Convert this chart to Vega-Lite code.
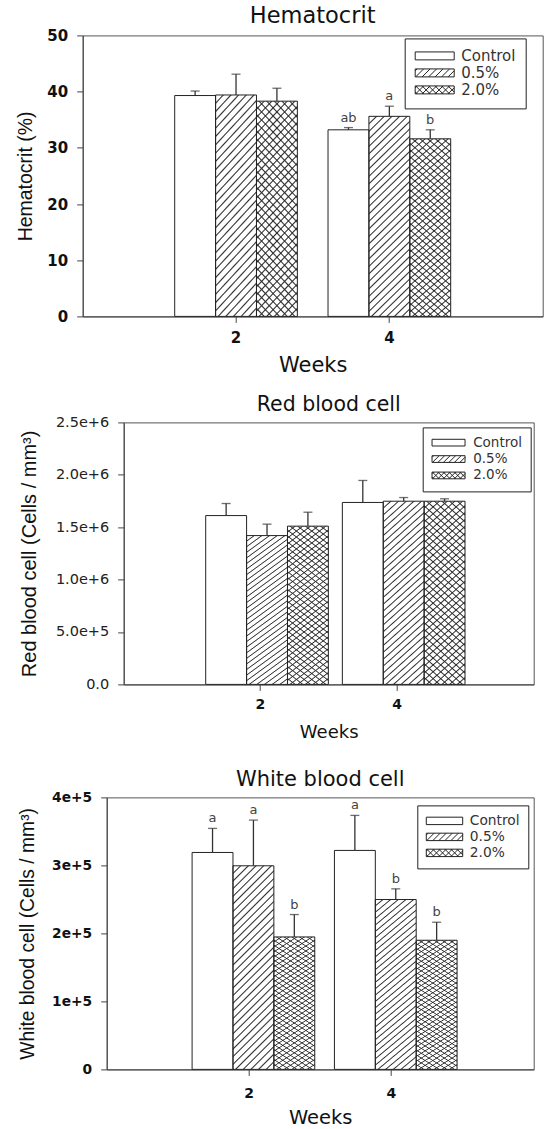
{
"$schema": "https://vega.github.io/schema/vega-lite/v6.json",
"background": "white",
"padding": {"left": 12.7, "top": 4.4, "right": 0, "bottom": 0},
"spacing": 0,
"resolve": {"scale": {"fill": "independent"}, "legend": {"fill": "independent"}},
"config": {
 "view": {"stroke": "#555", "strokeWidth": 1},
 "font": "DejaVu Sans",
 "axis": {"grid": false, "domainColor": "#444", "tickColor": "#444", "labelColor": "#111", "titleColor": "#111", "tickSize": 6, "labelPadding": 9, "labelFont": "DejaVu Sans", "titleFont": "DejaVu Sans", "titleFontWeight": "normal"},
 "axisX": {"labelAngle": 0},
 "title": {"font": "DejaVu Sans", "fontWeight": "normal", "color": "#111", "baseline": "alphabetic"},
 "legend": {"strokeColor": "#222", "fillColor": "white", "labelFont": "DejaVu Sans", "labelColor": "#333", "symbolStrokeColor": "#222", "symbolStrokeWidth": 1, "symbolFillColor": "white", "labelBaseline": "middle"}
},
"vconcat": [
 {"spacing": 0, "resolve": {"scale": {"fill": "independent"}, "legend": {"fill": "independent"}}, "hconcat": [
  {"width": 1, "height": 1, "data": {"values": []}, "mark": {"type": "point", "opacity": 0}, "view": {"stroke": null}},
  {
  "width": 460, "height": 281,
  "title": {"text": "Hematocrit", "fontSize": 22.5, "offset": 0.5},
  "data": {"values": [
   {"week": "2", "group": "Control", "value": 39.3, "upper": 40.1, "sig": ""},
   {"week": "2", "group": "0.5%", "value": 39.4, "upper": 43.1, "sig": ""},
   {"week": "2", "group": "2.0%", "value": 38.3, "upper": 40.6, "sig": ""},
   {"week": "4", "group": "Control", "value": 33.2, "upper": 33.6, "sig": "ab"},
   {"week": "4", "group": "0.5%", "value": 35.6, "upper": 37.4, "sig": "a"},
   {"week": "4", "group": "2.0%", "value": 31.6, "upper": 33.2, "sig": "b"}
  ]},
  "encoding": {
   "x": {"field": "week", "type": "ordinal", "scale": {"paddingInner": 0.2, "paddingOuter": 0.6}, "axis": {"title": "Weeks", "labelFontWeight": "bold", "labelFontSize": 15, "labelPadding": 8, "titleFontSize": 21, "titlePadding": 9}},
   "xOffset": {"field": "group", "type": "nominal", "scale": {"domain": ["Control", "0.5%", "2.0%"], "paddingInner": 0, "paddingOuter": 0}},
   "y": {"field": "value", "type": "quantitative", "scale": {"domain": [0, 50], "nice": false}, "axis": {"title": "Hematocrit (%)", "values": [0, 10, 20, 30, 40, 50], "labelFontWeight": "bold", "labelFontSize": 15, "titleFont": "Liberation Sans", "titleFontSize": 19.5, "titlePadding": 11.7}}
  },
  "layer": [
   {"mark": {"type": "bar"}, "encoding": {"fill": {"field": "group", "type": "nominal", "scale": {"domain": ["Control", "0.5%", "2.0%"], "range": ["white", "white", "white"]},
     "legend": {"title": null, "orient": "none", "legendX": 322, "legendY": 3, "padding": 10, "labelFontSize": 15, "symbolSize": 194, "symbolOffset": 12.5, "labelOffset": 19.1, "rowPadding": 1,
      "encode": {"symbols": {"update": {"stroke": {"value": "#222"}, "strokeWidth": {"value": 1}, "fill": {"value": "white"}, "opacity": {"value": 1},
       "shape": [
        {"test": "datum.value === '0.5%'", "value": "M-2.8,-0.57H2.8V0.57H-2.8Z M-2.8,-0.29L-2.52,-0.57M-2.73,0.57L-1.59,-0.57M-1.8,0.57L-0.66,-0.57M-0.87,0.57L0.27,-0.57M0.06,0.57L1.2,-0.57M0.99,0.57L2.13,-0.57M1.92,0.57L2.8,-0.31"},
        {"test": "datum.value === '2.0%'", "value": "M-2.8,-0.57H2.8V0.57H-2.8Z M-2.8,-0.29L-2.52,-0.57M-2.73,0.57L-1.59,-0.57M-1.8,0.57L-0.66,-0.57M-0.87,0.57L0.27,-0.57M0.06,0.57L1.2,-0.57M0.99,0.57L2.13,-0.57M1.92,0.57L2.8,-0.31 M-2.8,0.29L-2.52,0.57M-2.73,-0.57L-1.59,0.57M-1.8,-0.57L-0.66,0.57M-0.87,-0.57L0.27,0.57M0.06,-0.57L1.2,0.57M0.99,-0.57L2.13,0.57M1.92,-0.57L2.8,0.31"},
        {"value": "M-2.8,-0.57H2.8V0.57H-2.8Z"}
       ]}}}}}}},
   {"transform": [{"filter": "datum.group != 'Control'"}], "mark": {"type": "bar", "fill": {"gradient": "linear", "x1": 0, "y1": 0, "x2": 0.2308, "y2": 1.1539, "stops": [
{"offset":0,"color":"#333"},{"offset":0.0056,"color":"transparent"},{"offset":0.0256,"color":"transparent"},
{"offset":0.0313,"color":"#333"},{"offset":0.0369,"color":"transparent"},{"offset":0.0569,"color":"transparent"},
{"offset":0.0625,"color":"#333"},{"offset":0.0681,"color":"transparent"},{"offset":0.0881,"color":"transparent"},
{"offset":0.0938,"color":"#333"},{"offset":0.0994,"color":"transparent"},{"offset":0.1194,"color":"transparent"},
{"offset":0.125,"color":"#333"},{"offset":0.1306,"color":"transparent"},{"offset":0.1506,"color":"transparent"},
{"offset":0.1563,"color":"#333"},{"offset":0.1619,"color":"transparent"},{"offset":0.1819,"color":"transparent"},
{"offset":0.1875,"color":"#333"},{"offset":0.1931,"color":"transparent"},{"offset":0.2131,"color":"transparent"},
{"offset":0.2188,"color":"#333"},{"offset":0.2244,"color":"transparent"},{"offset":0.2444,"color":"transparent"},
{"offset":0.25,"color":"#333"},{"offset":0.2556,"color":"transparent"},{"offset":0.2756,"color":"transparent"},
{"offset":0.2813,"color":"#333"},{"offset":0.2869,"color":"transparent"},{"offset":0.3069,"color":"transparent"},
{"offset":0.3125,"color":"#333"},{"offset":0.3181,"color":"transparent"},{"offset":0.3381,"color":"transparent"},
{"offset":0.3438,"color":"#333"},{"offset":0.3494,"color":"transparent"},{"offset":0.3694,"color":"transparent"},
{"offset":0.375,"color":"#333"},{"offset":0.3806,"color":"transparent"},{"offset":0.4006,"color":"transparent"},
{"offset":0.4063,"color":"#333"},{"offset":0.4119,"color":"transparent"},{"offset":0.4319,"color":"transparent"},
{"offset":0.4375,"color":"#333"},{"offset":0.4431,"color":"transparent"},{"offset":0.4631,"color":"transparent"},
{"offset":0.4688,"color":"#333"},{"offset":0.4744,"color":"transparent"},{"offset":0.4944,"color":"transparent"},
{"offset":0.5,"color":"#333"},{"offset":0.5056,"color":"transparent"},{"offset":0.5256,"color":"transparent"},
{"offset":0.5313,"color":"#333"},{"offset":0.5369,"color":"transparent"},{"offset":0.5569,"color":"transparent"},
{"offset":0.5625,"color":"#333"},{"offset":0.5681,"color":"transparent"},{"offset":0.5881,"color":"transparent"},
{"offset":0.5938,"color":"#333"},{"offset":0.5994,"color":"transparent"},{"offset":0.6194,"color":"transparent"},
{"offset":0.625,"color":"#333"},{"offset":0.6306,"color":"transparent"},{"offset":0.6506,"color":"transparent"},
{"offset":0.6563,"color":"#333"},{"offset":0.6619,"color":"transparent"},{"offset":0.6819,"color":"transparent"},
{"offset":0.6875,"color":"#333"},{"offset":0.6931,"color":"transparent"},{"offset":0.7131,"color":"transparent"},
{"offset":0.7188,"color":"#333"},{"offset":0.7244,"color":"transparent"},{"offset":0.7444,"color":"transparent"},
{"offset":0.75,"color":"#333"},{"offset":0.7556,"color":"transparent"},{"offset":0.7756,"color":"transparent"},
{"offset":0.7813,"color":"#333"},{"offset":0.7869,"color":"transparent"},{"offset":0.8069,"color":"transparent"},
{"offset":0.8125,"color":"#333"},{"offset":0.8181,"color":"transparent"},{"offset":0.8381,"color":"transparent"},
{"offset":0.8438,"color":"#333"},{"offset":0.8494,"color":"transparent"},{"offset":0.8694,"color":"transparent"},
{"offset":0.875,"color":"#333"},{"offset":0.8806,"color":"transparent"},{"offset":0.9006,"color":"transparent"},
{"offset":0.9063,"color":"#333"},{"offset":0.9119,"color":"transparent"},{"offset":0.9319,"color":"transparent"},
{"offset":0.9375,"color":"#333"},{"offset":0.9431,"color":"transparent"},{"offset":0.9631,"color":"transparent"},
{"offset":0.9688,"color":"#333"},{"offset":0.9744,"color":"transparent"},{"offset":0.9944,"color":"transparent"},
{"offset":1,"color":"#333"}]}}},
   {"transform": [{"filter": "datum.group == '2.0%'"}], "mark": {"type": "bar", "fill": {"gradient": "linear", "x1": 0, "y1": 1, "x2": 0.2308, "y2": -0.1539, "stops": [
{"offset":0,"color":"#333"},{"offset":0.0056,"color":"transparent"},{"offset":0.0256,"color":"transparent"},
{"offset":0.0313,"color":"#333"},{"offset":0.0369,"color":"transparent"},{"offset":0.0569,"color":"transparent"},
{"offset":0.0625,"color":"#333"},{"offset":0.0681,"color":"transparent"},{"offset":0.0881,"color":"transparent"},
{"offset":0.0938,"color":"#333"},{"offset":0.0994,"color":"transparent"},{"offset":0.1194,"color":"transparent"},
{"offset":0.125,"color":"#333"},{"offset":0.1306,"color":"transparent"},{"offset":0.1506,"color":"transparent"},
{"offset":0.1563,"color":"#333"},{"offset":0.1619,"color":"transparent"},{"offset":0.1819,"color":"transparent"},
{"offset":0.1875,"color":"#333"},{"offset":0.1931,"color":"transparent"},{"offset":0.2131,"color":"transparent"},
{"offset":0.2188,"color":"#333"},{"offset":0.2244,"color":"transparent"},{"offset":0.2444,"color":"transparent"},
{"offset":0.25,"color":"#333"},{"offset":0.2556,"color":"transparent"},{"offset":0.2756,"color":"transparent"},
{"offset":0.2813,"color":"#333"},{"offset":0.2869,"color":"transparent"},{"offset":0.3069,"color":"transparent"},
{"offset":0.3125,"color":"#333"},{"offset":0.3181,"color":"transparent"},{"offset":0.3381,"color":"transparent"},
{"offset":0.3438,"color":"#333"},{"offset":0.3494,"color":"transparent"},{"offset":0.3694,"color":"transparent"},
{"offset":0.375,"color":"#333"},{"offset":0.3806,"color":"transparent"},{"offset":0.4006,"color":"transparent"},
{"offset":0.4063,"color":"#333"},{"offset":0.4119,"color":"transparent"},{"offset":0.4319,"color":"transparent"},
{"offset":0.4375,"color":"#333"},{"offset":0.4431,"color":"transparent"},{"offset":0.4631,"color":"transparent"},
{"offset":0.4688,"color":"#333"},{"offset":0.4744,"color":"transparent"},{"offset":0.4944,"color":"transparent"},
{"offset":0.5,"color":"#333"},{"offset":0.5056,"color":"transparent"},{"offset":0.5256,"color":"transparent"},
{"offset":0.5313,"color":"#333"},{"offset":0.5369,"color":"transparent"},{"offset":0.5569,"color":"transparent"},
{"offset":0.5625,"color":"#333"},{"offset":0.5681,"color":"transparent"},{"offset":0.5881,"color":"transparent"},
{"offset":0.5938,"color":"#333"},{"offset":0.5994,"color":"transparent"},{"offset":0.6194,"color":"transparent"},
{"offset":0.625,"color":"#333"},{"offset":0.6306,"color":"transparent"},{"offset":0.6506,"color":"transparent"},
{"offset":0.6563,"color":"#333"},{"offset":0.6619,"color":"transparent"},{"offset":0.6819,"color":"transparent"},
{"offset":0.6875,"color":"#333"},{"offset":0.6931,"color":"transparent"},{"offset":0.7131,"color":"transparent"},
{"offset":0.7188,"color":"#333"},{"offset":0.7244,"color":"transparent"},{"offset":0.7444,"color":"transparent"},
{"offset":0.75,"color":"#333"},{"offset":0.7556,"color":"transparent"},{"offset":0.7756,"color":"transparent"},
{"offset":0.7813,"color":"#333"},{"offset":0.7869,"color":"transparent"},{"offset":0.8069,"color":"transparent"},
{"offset":0.8125,"color":"#333"},{"offset":0.8181,"color":"transparent"},{"offset":0.8381,"color":"transparent"},
{"offset":0.8438,"color":"#333"},{"offset":0.8494,"color":"transparent"},{"offset":0.8694,"color":"transparent"},
{"offset":0.875,"color":"#333"},{"offset":0.8806,"color":"transparent"},{"offset":0.9006,"color":"transparent"},
{"offset":0.9063,"color":"#333"},{"offset":0.9119,"color":"transparent"},{"offset":0.9319,"color":"transparent"},
{"offset":0.9375,"color":"#333"},{"offset":0.9431,"color":"transparent"},{"offset":0.9631,"color":"transparent"},
{"offset":0.9688,"color":"#333"},{"offset":0.9744,"color":"transparent"},{"offset":0.9944,"color":"transparent"},
{"offset":1,"color":"#333"}]}}},
   {"mark": {"type": "bar", "fill": "transparent", "stroke": "#222", "strokeWidth": 1}},
   {"mark": {"type": "rule", "color": "#333", "strokeWidth": 1.3}, "encoding": {"y": {"field": "value", "type": "quantitative"}, "y2": {"field": "upper"}}},
   {"mark": {"type": "tick", "color": "#333", "size": 9, "thickness": 1.3}, "encoding": {"y": {"field": "upper", "type": "quantitative"}}},
   {"mark": {"type": "text", "fontSize": 13, "color": "#444", "dy": -6, "baseline": "alphabetic"}, "encoding": {"y": {"field": "upper", "type": "quantitative"}, "text": {"field": "sig"}}}
  ]
 }]},
 {"width": 1, "height": 18, "data": {"values": []}, "mark": {"type": "point", "opacity": 0}, "view": {"stroke": null}},
 {"spacing": 0, "resolve": {"scale": {"fill": "independent"}, "legend": {"fill": "independent"}}, "hconcat": [
  {"width": 5.9, "height": 1, "data": {"values": []}, "mark": {"type": "point", "opacity": 0}, "view": {"stroke": null}},
  {
  "width": 410, "height": 262,
  "title": {"text": "Red blood cell", "fontSize": 20.5, "offset": -1},
  "data": {"values": [
   {"week": "2", "group": "Control", "value": 1611000, "upper": 1726000, "sig": ""},
   {"week": "2", "group": "0.5%", "value": 1420000, "upper": 1529000, "sig": ""},
   {"week": "2", "group": "2.0%", "value": 1510000, "upper": 1643000, "sig": ""},
   {"week": "4", "group": "Control", "value": 1736000, "upper": 1946000, "sig": ""},
   {"week": "4", "group": "0.5%", "value": 1748000, "upper": 1783000, "sig": ""},
   {"week": "4", "group": "2.0%", "value": 1748000, "upper": 1771000, "sig": ""}
  ]},
  "encoding": {
   "x": {"field": "week", "type": "ordinal", "scale": {"paddingInner": 0.2, "paddingOuter": 0.6}, "axis": {"title": "Weeks", "labelFontWeight": "bold", "labelFontSize": 14, "labelPadding": 7, "titleFontSize": 18, "titlePadding": 12}},
   "xOffset": {"field": "group", "type": "nominal", "scale": {"domain": ["Control", "0.5%", "2.0%"], "paddingInner": 0, "paddingOuter": 0}},
   "y": {"field": "value", "type": "quantitative", "scale": {"domain": [0, 2500000], "nice": false}, "axis": {"title": "Red blood cell (Cells / mm³)", "values": [0, 500000, 1000000, 1500000, 2000000, 2500000], "labelExpr": "datum.value == 0 ? '0.0' : format(datum.value, '.1e')", "labelFontSize": 14.5, "labelColor": "#222", "titleFont": "Liberation Sans", "titleFontSize": 20, "titlePadding": 16.1}}
  },
  "layer": [
   {"mark": {"type": "bar"}, "encoding": {"fill": {"field": "group", "type": "nominal", "scale": {"domain": ["Control", "0.5%", "2.0%"], "range": ["white", "white", "white"]},
     "legend": {"title": null, "orient": "none", "legendX": 299, "legendY": 5, "padding": 8.5, "labelFontSize": 13.5, "symbolSize": 139, "symbolOffset": 10.6, "labelOffset": 17.9, "rowPadding": 1.4,
      "encode": {"symbols": {"update": {"stroke": {"value": "#222"}, "strokeWidth": {"value": 1}, "fill": {"value": "white"}, "opacity": {"value": 1},
       "shape": [
        {"test": "datum.value === '0.5%'", "value": "M-2.8,-0.57H2.8V0.57H-2.8Z M-2.8,-0.29L-2.52,-0.57M-2.73,0.57L-1.59,-0.57M-1.8,0.57L-0.66,-0.57M-0.87,0.57L0.27,-0.57M0.06,0.57L1.2,-0.57M0.99,0.57L2.13,-0.57M1.92,0.57L2.8,-0.31"},
        {"test": "datum.value === '2.0%'", "value": "M-2.8,-0.57H2.8V0.57H-2.8Z M-2.8,-0.29L-2.52,-0.57M-2.73,0.57L-1.59,-0.57M-1.8,0.57L-0.66,-0.57M-0.87,0.57L0.27,-0.57M0.06,0.57L1.2,-0.57M0.99,0.57L2.13,-0.57M1.92,0.57L2.8,-0.31 M-2.8,0.29L-2.52,0.57M-2.73,-0.57L-1.59,0.57M-1.8,-0.57L-0.66,0.57M-0.87,-0.57L0.27,0.57M0.06,-0.57L1.2,0.57M0.99,-0.57L2.13,0.57M1.92,-0.57L2.8,0.31"},
        {"value": "M-2.8,-0.57H2.8V0.57H-2.8Z"}
       ]}}}}}}},
   {"transform": [{"filter": "datum.group != 'Control'"}], "mark": {"type": "bar", "fill": {"gradient": "linear", "x1": 0, "y1": 0, "x2": 0.2308, "y2": 1.1539, "stops": [
{"offset":0,"color":"#333"},{"offset":0.0056,"color":"transparent"},{"offset":0.0256,"color":"transparent"},
{"offset":0.0313,"color":"#333"},{"offset":0.0369,"color":"transparent"},{"offset":0.0569,"color":"transparent"},
{"offset":0.0625,"color":"#333"},{"offset":0.0681,"color":"transparent"},{"offset":0.0881,"color":"transparent"},
{"offset":0.0938,"color":"#333"},{"offset":0.0994,"color":"transparent"},{"offset":0.1194,"color":"transparent"},
{"offset":0.125,"color":"#333"},{"offset":0.1306,"color":"transparent"},{"offset":0.1506,"color":"transparent"},
{"offset":0.1563,"color":"#333"},{"offset":0.1619,"color":"transparent"},{"offset":0.1819,"color":"transparent"},
{"offset":0.1875,"color":"#333"},{"offset":0.1931,"color":"transparent"},{"offset":0.2131,"color":"transparent"},
{"offset":0.2188,"color":"#333"},{"offset":0.2244,"color":"transparent"},{"offset":0.2444,"color":"transparent"},
{"offset":0.25,"color":"#333"},{"offset":0.2556,"color":"transparent"},{"offset":0.2756,"color":"transparent"},
{"offset":0.2813,"color":"#333"},{"offset":0.2869,"color":"transparent"},{"offset":0.3069,"color":"transparent"},
{"offset":0.3125,"color":"#333"},{"offset":0.3181,"color":"transparent"},{"offset":0.3381,"color":"transparent"},
{"offset":0.3438,"color":"#333"},{"offset":0.3494,"color":"transparent"},{"offset":0.3694,"color":"transparent"},
{"offset":0.375,"color":"#333"},{"offset":0.3806,"color":"transparent"},{"offset":0.4006,"color":"transparent"},
{"offset":0.4063,"color":"#333"},{"offset":0.4119,"color":"transparent"},{"offset":0.4319,"color":"transparent"},
{"offset":0.4375,"color":"#333"},{"offset":0.4431,"color":"transparent"},{"offset":0.4631,"color":"transparent"},
{"offset":0.4688,"color":"#333"},{"offset":0.4744,"color":"transparent"},{"offset":0.4944,"color":"transparent"},
{"offset":0.5,"color":"#333"},{"offset":0.5056,"color":"transparent"},{"offset":0.5256,"color":"transparent"},
{"offset":0.5313,"color":"#333"},{"offset":0.5369,"color":"transparent"},{"offset":0.5569,"color":"transparent"},
{"offset":0.5625,"color":"#333"},{"offset":0.5681,"color":"transparent"},{"offset":0.5881,"color":"transparent"},
{"offset":0.5938,"color":"#333"},{"offset":0.5994,"color":"transparent"},{"offset":0.6194,"color":"transparent"},
{"offset":0.625,"color":"#333"},{"offset":0.6306,"color":"transparent"},{"offset":0.6506,"color":"transparent"},
{"offset":0.6563,"color":"#333"},{"offset":0.6619,"color":"transparent"},{"offset":0.6819,"color":"transparent"},
{"offset":0.6875,"color":"#333"},{"offset":0.6931,"color":"transparent"},{"offset":0.7131,"color":"transparent"},
{"offset":0.7188,"color":"#333"},{"offset":0.7244,"color":"transparent"},{"offset":0.7444,"color":"transparent"},
{"offset":0.75,"color":"#333"},{"offset":0.7556,"color":"transparent"},{"offset":0.7756,"color":"transparent"},
{"offset":0.7813,"color":"#333"},{"offset":0.7869,"color":"transparent"},{"offset":0.8069,"color":"transparent"},
{"offset":0.8125,"color":"#333"},{"offset":0.8181,"color":"transparent"},{"offset":0.8381,"color":"transparent"},
{"offset":0.8438,"color":"#333"},{"offset":0.8494,"color":"transparent"},{"offset":0.8694,"color":"transparent"},
{"offset":0.875,"color":"#333"},{"offset":0.8806,"color":"transparent"},{"offset":0.9006,"color":"transparent"},
{"offset":0.9063,"color":"#333"},{"offset":0.9119,"color":"transparent"},{"offset":0.9319,"color":"transparent"},
{"offset":0.9375,"color":"#333"},{"offset":0.9431,"color":"transparent"},{"offset":0.9631,"color":"transparent"},
{"offset":0.9688,"color":"#333"},{"offset":0.9744,"color":"transparent"},{"offset":0.9944,"color":"transparent"},
{"offset":1,"color":"#333"}]}}},
   {"transform": [{"filter": "datum.group == '2.0%'"}], "mark": {"type": "bar", "fill": {"gradient": "linear", "x1": 0, "y1": 1, "x2": 0.2308, "y2": -0.1539, "stops": [
{"offset":0,"color":"#333"},{"offset":0.0056,"color":"transparent"},{"offset":0.0256,"color":"transparent"},
{"offset":0.0313,"color":"#333"},{"offset":0.0369,"color":"transparent"},{"offset":0.0569,"color":"transparent"},
{"offset":0.0625,"color":"#333"},{"offset":0.0681,"color":"transparent"},{"offset":0.0881,"color":"transparent"},
{"offset":0.0938,"color":"#333"},{"offset":0.0994,"color":"transparent"},{"offset":0.1194,"color":"transparent"},
{"offset":0.125,"color":"#333"},{"offset":0.1306,"color":"transparent"},{"offset":0.1506,"color":"transparent"},
{"offset":0.1563,"color":"#333"},{"offset":0.1619,"color":"transparent"},{"offset":0.1819,"color":"transparent"},
{"offset":0.1875,"color":"#333"},{"offset":0.1931,"color":"transparent"},{"offset":0.2131,"color":"transparent"},
{"offset":0.2188,"color":"#333"},{"offset":0.2244,"color":"transparent"},{"offset":0.2444,"color":"transparent"},
{"offset":0.25,"color":"#333"},{"offset":0.2556,"color":"transparent"},{"offset":0.2756,"color":"transparent"},
{"offset":0.2813,"color":"#333"},{"offset":0.2869,"color":"transparent"},{"offset":0.3069,"color":"transparent"},
{"offset":0.3125,"color":"#333"},{"offset":0.3181,"color":"transparent"},{"offset":0.3381,"color":"transparent"},
{"offset":0.3438,"color":"#333"},{"offset":0.3494,"color":"transparent"},{"offset":0.3694,"color":"transparent"},
{"offset":0.375,"color":"#333"},{"offset":0.3806,"color":"transparent"},{"offset":0.4006,"color":"transparent"},
{"offset":0.4063,"color":"#333"},{"offset":0.4119,"color":"transparent"},{"offset":0.4319,"color":"transparent"},
{"offset":0.4375,"color":"#333"},{"offset":0.4431,"color":"transparent"},{"offset":0.4631,"color":"transparent"},
{"offset":0.4688,"color":"#333"},{"offset":0.4744,"color":"transparent"},{"offset":0.4944,"color":"transparent"},
{"offset":0.5,"color":"#333"},{"offset":0.5056,"color":"transparent"},{"offset":0.5256,"color":"transparent"},
{"offset":0.5313,"color":"#333"},{"offset":0.5369,"color":"transparent"},{"offset":0.5569,"color":"transparent"},
{"offset":0.5625,"color":"#333"},{"offset":0.5681,"color":"transparent"},{"offset":0.5881,"color":"transparent"},
{"offset":0.5938,"color":"#333"},{"offset":0.5994,"color":"transparent"},{"offset":0.6194,"color":"transparent"},
{"offset":0.625,"color":"#333"},{"offset":0.6306,"color":"transparent"},{"offset":0.6506,"color":"transparent"},
{"offset":0.6563,"color":"#333"},{"offset":0.6619,"color":"transparent"},{"offset":0.6819,"color":"transparent"},
{"offset":0.6875,"color":"#333"},{"offset":0.6931,"color":"transparent"},{"offset":0.7131,"color":"transparent"},
{"offset":0.7188,"color":"#333"},{"offset":0.7244,"color":"transparent"},{"offset":0.7444,"color":"transparent"},
{"offset":0.75,"color":"#333"},{"offset":0.7556,"color":"transparent"},{"offset":0.7756,"color":"transparent"},
{"offset":0.7813,"color":"#333"},{"offset":0.7869,"color":"transparent"},{"offset":0.8069,"color":"transparent"},
{"offset":0.8125,"color":"#333"},{"offset":0.8181,"color":"transparent"},{"offset":0.8381,"color":"transparent"},
{"offset":0.8438,"color":"#333"},{"offset":0.8494,"color":"transparent"},{"offset":0.8694,"color":"transparent"},
{"offset":0.875,"color":"#333"},{"offset":0.8806,"color":"transparent"},{"offset":0.9006,"color":"transparent"},
{"offset":0.9063,"color":"#333"},{"offset":0.9119,"color":"transparent"},{"offset":0.9319,"color":"transparent"},
{"offset":0.9375,"color":"#333"},{"offset":0.9431,"color":"transparent"},{"offset":0.9631,"color":"transparent"},
{"offset":0.9688,"color":"#333"},{"offset":0.9744,"color":"transparent"},{"offset":0.9944,"color":"transparent"},
{"offset":1,"color":"#333"}]}}},
   {"mark": {"type": "bar", "fill": "transparent", "stroke": "#222", "strokeWidth": 1}},
   {"mark": {"type": "rule", "color": "#333", "strokeWidth": 1.3}, "encoding": {"y": {"field": "value", "type": "quantitative"}, "y2": {"field": "upper"}}},
   {"mark": {"type": "tick", "color": "#333", "size": 9, "thickness": 1.3}, "encoding": {"y": {"field": "upper", "type": "quantitative"}}}
  ]
 }]},
 {"width": 1, "height": 26, "data": {"values": []}, "mark": {"type": "point", "opacity": 0}, "view": {"stroke": null}},
 {"spacing": 0, "resolve": {"scale": {"fill": "independent"}, "legend": {"fill": "independent"}}, "hconcat": [
  {"width": 4.5, "height": 1, "data": {"values": []}, "mark": {"type": "point", "opacity": 0}, "view": {"stroke": null}},
  {
  "width": 427, "height": 272,
  "title": {"text": "White blood cell", "fontSize": 21, "offset": 0.5},
  "data": {"values": [
   {"week": "2", "group": "Control", "value": 319000, "upper": 354400, "sig": "a"},
   {"week": "2", "group": "0.5%", "value": 299400, "upper": 366600, "sig": "a"},
   {"week": "2", "group": "2.0%", "value": 194800, "upper": 227700, "sig": "b"},
   {"week": "4", "group": "Control", "value": 322000, "upper": 373500, "sig": "a"},
   {"week": "4", "group": "0.5%", "value": 249800, "upper": 265500, "sig": "b"},
   {"week": "4", "group": "2.0%", "value": 189900, "upper": 216400, "sig": "b"}
  ]},
  "encoding": {
   "x": {"field": "week", "type": "ordinal", "scale": {"paddingInner": 0.2, "paddingOuter": 0.6}, "axis": {"title": "Weeks", "labelFontWeight": "bold", "labelFontSize": 14, "labelPadding": 11, "titleFontSize": 19.5, "titlePadding": 8}},
   "xOffset": {"field": "group", "type": "nominal", "scale": {"domain": ["Control", "0.5%", "2.0%"], "paddingInner": 0, "paddingOuter": 0}},
   "y": {"field": "value", "type": "quantitative", "scale": {"domain": [0, 400000], "nice": false}, "axis": {"title": "White blood cell (Cells / mm³)", "values": [0, 100000, 200000, 300000, 400000], "labelExpr": "datum.value == 0 ? '0' : format(datum.value, '.0e')", "labelFontWeight": "bold", "labelFontSize": 13.8, "titleFont": "Liberation Sans", "titleFontSize": 19.3, "titlePadding": 13.8}}
  },
  "layer": [
   {"mark": {"type": "bar"}, "encoding": {"fill": {"field": "group", "type": "nominal", "scale": {"domain": ["Control", "0.5%", "2.0%"], "range": ["white", "white", "white"]},
     "legend": {"title": null, "orient": "none", "legendX": 310.6, "legendY": 8, "padding": 8.5, "labelFontSize": 13.8, "symbolSize": 169, "symbolOffset": 11.7, "labelOffset": 18.3, "rowPadding": 2,
      "encode": {"symbols": {"update": {"stroke": {"value": "#222"}, "strokeWidth": {"value": 1}, "fill": {"value": "white"}, "opacity": {"value": 1},
       "shape": [
        {"test": "datum.value === '0.5%'", "value": "M-2.8,-0.57H2.8V0.57H-2.8Z M-2.8,-0.29L-2.52,-0.57M-2.73,0.57L-1.59,-0.57M-1.8,0.57L-0.66,-0.57M-0.87,0.57L0.27,-0.57M0.06,0.57L1.2,-0.57M0.99,0.57L2.13,-0.57M1.92,0.57L2.8,-0.31"},
        {"test": "datum.value === '2.0%'", "value": "M-2.8,-0.57H2.8V0.57H-2.8Z M-2.8,-0.29L-2.52,-0.57M-2.73,0.57L-1.59,-0.57M-1.8,0.57L-0.66,-0.57M-0.87,0.57L0.27,-0.57M0.06,0.57L1.2,-0.57M0.99,0.57L2.13,-0.57M1.92,0.57L2.8,-0.31 M-2.8,0.29L-2.52,0.57M-2.73,-0.57L-1.59,0.57M-1.8,-0.57L-0.66,0.57M-0.87,-0.57L0.27,0.57M0.06,-0.57L1.2,0.57M0.99,-0.57L2.13,0.57M1.92,-0.57L2.8,0.31"},
        {"value": "M-2.8,-0.57H2.8V0.57H-2.8Z"}
       ]}}}}}}},
   {"transform": [{"filter": "datum.group != 'Control'"}], "mark": {"type": "bar", "fill": {"gradient": "linear", "x1": 0, "y1": 0, "x2": 0.2308, "y2": 1.1539, "stops": [
{"offset":0,"color":"#333"},{"offset":0.0056,"color":"transparent"},{"offset":0.0256,"color":"transparent"},
{"offset":0.0313,"color":"#333"},{"offset":0.0369,"color":"transparent"},{"offset":0.0569,"color":"transparent"},
{"offset":0.0625,"color":"#333"},{"offset":0.0681,"color":"transparent"},{"offset":0.0881,"color":"transparent"},
{"offset":0.0938,"color":"#333"},{"offset":0.0994,"color":"transparent"},{"offset":0.1194,"color":"transparent"},
{"offset":0.125,"color":"#333"},{"offset":0.1306,"color":"transparent"},{"offset":0.1506,"color":"transparent"},
{"offset":0.1563,"color":"#333"},{"offset":0.1619,"color":"transparent"},{"offset":0.1819,"color":"transparent"},
{"offset":0.1875,"color":"#333"},{"offset":0.1931,"color":"transparent"},{"offset":0.2131,"color":"transparent"},
{"offset":0.2188,"color":"#333"},{"offset":0.2244,"color":"transparent"},{"offset":0.2444,"color":"transparent"},
{"offset":0.25,"color":"#333"},{"offset":0.2556,"color":"transparent"},{"offset":0.2756,"color":"transparent"},
{"offset":0.2813,"color":"#333"},{"offset":0.2869,"color":"transparent"},{"offset":0.3069,"color":"transparent"},
{"offset":0.3125,"color":"#333"},{"offset":0.3181,"color":"transparent"},{"offset":0.3381,"color":"transparent"},
{"offset":0.3438,"color":"#333"},{"offset":0.3494,"color":"transparent"},{"offset":0.3694,"color":"transparent"},
{"offset":0.375,"color":"#333"},{"offset":0.3806,"color":"transparent"},{"offset":0.4006,"color":"transparent"},
{"offset":0.4063,"color":"#333"},{"offset":0.4119,"color":"transparent"},{"offset":0.4319,"color":"transparent"},
{"offset":0.4375,"color":"#333"},{"offset":0.4431,"color":"transparent"},{"offset":0.4631,"color":"transparent"},
{"offset":0.4688,"color":"#333"},{"offset":0.4744,"color":"transparent"},{"offset":0.4944,"color":"transparent"},
{"offset":0.5,"color":"#333"},{"offset":0.5056,"color":"transparent"},{"offset":0.5256,"color":"transparent"},
{"offset":0.5313,"color":"#333"},{"offset":0.5369,"color":"transparent"},{"offset":0.5569,"color":"transparent"},
{"offset":0.5625,"color":"#333"},{"offset":0.5681,"color":"transparent"},{"offset":0.5881,"color":"transparent"},
{"offset":0.5938,"color":"#333"},{"offset":0.5994,"color":"transparent"},{"offset":0.6194,"color":"transparent"},
{"offset":0.625,"color":"#333"},{"offset":0.6306,"color":"transparent"},{"offset":0.6506,"color":"transparent"},
{"offset":0.6563,"color":"#333"},{"offset":0.6619,"color":"transparent"},{"offset":0.6819,"color":"transparent"},
{"offset":0.6875,"color":"#333"},{"offset":0.6931,"color":"transparent"},{"offset":0.7131,"color":"transparent"},
{"offset":0.7188,"color":"#333"},{"offset":0.7244,"color":"transparent"},{"offset":0.7444,"color":"transparent"},
{"offset":0.75,"color":"#333"},{"offset":0.7556,"color":"transparent"},{"offset":0.7756,"color":"transparent"},
{"offset":0.7813,"color":"#333"},{"offset":0.7869,"color":"transparent"},{"offset":0.8069,"color":"transparent"},
{"offset":0.8125,"color":"#333"},{"offset":0.8181,"color":"transparent"},{"offset":0.8381,"color":"transparent"},
{"offset":0.8438,"color":"#333"},{"offset":0.8494,"color":"transparent"},{"offset":0.8694,"color":"transparent"},
{"offset":0.875,"color":"#333"},{"offset":0.8806,"color":"transparent"},{"offset":0.9006,"color":"transparent"},
{"offset":0.9063,"color":"#333"},{"offset":0.9119,"color":"transparent"},{"offset":0.9319,"color":"transparent"},
{"offset":0.9375,"color":"#333"},{"offset":0.9431,"color":"transparent"},{"offset":0.9631,"color":"transparent"},
{"offset":0.9688,"color":"#333"},{"offset":0.9744,"color":"transparent"},{"offset":0.9944,"color":"transparent"},
{"offset":1,"color":"#333"}]}}},
   {"transform": [{"filter": "datum.group == '2.0%'"}], "mark": {"type": "bar", "fill": {"gradient": "linear", "x1": 0, "y1": 1, "x2": 0.2308, "y2": -0.1539, "stops": [
{"offset":0,"color":"#333"},{"offset":0.0056,"color":"transparent"},{"offset":0.0256,"color":"transparent"},
{"offset":0.0313,"color":"#333"},{"offset":0.0369,"color":"transparent"},{"offset":0.0569,"color":"transparent"},
{"offset":0.0625,"color":"#333"},{"offset":0.0681,"color":"transparent"},{"offset":0.0881,"color":"transparent"},
{"offset":0.0938,"color":"#333"},{"offset":0.0994,"color":"transparent"},{"offset":0.1194,"color":"transparent"},
{"offset":0.125,"color":"#333"},{"offset":0.1306,"color":"transparent"},{"offset":0.1506,"color":"transparent"},
{"offset":0.1563,"color":"#333"},{"offset":0.1619,"color":"transparent"},{"offset":0.1819,"color":"transparent"},
{"offset":0.1875,"color":"#333"},{"offset":0.1931,"color":"transparent"},{"offset":0.2131,"color":"transparent"},
{"offset":0.2188,"color":"#333"},{"offset":0.2244,"color":"transparent"},{"offset":0.2444,"color":"transparent"},
{"offset":0.25,"color":"#333"},{"offset":0.2556,"color":"transparent"},{"offset":0.2756,"color":"transparent"},
{"offset":0.2813,"color":"#333"},{"offset":0.2869,"color":"transparent"},{"offset":0.3069,"color":"transparent"},
{"offset":0.3125,"color":"#333"},{"offset":0.3181,"color":"transparent"},{"offset":0.3381,"color":"transparent"},
{"offset":0.3438,"color":"#333"},{"offset":0.3494,"color":"transparent"},{"offset":0.3694,"color":"transparent"},
{"offset":0.375,"color":"#333"},{"offset":0.3806,"color":"transparent"},{"offset":0.4006,"color":"transparent"},
{"offset":0.4063,"color":"#333"},{"offset":0.4119,"color":"transparent"},{"offset":0.4319,"color":"transparent"},
{"offset":0.4375,"color":"#333"},{"offset":0.4431,"color":"transparent"},{"offset":0.4631,"color":"transparent"},
{"offset":0.4688,"color":"#333"},{"offset":0.4744,"color":"transparent"},{"offset":0.4944,"color":"transparent"},
{"offset":0.5,"color":"#333"},{"offset":0.5056,"color":"transparent"},{"offset":0.5256,"color":"transparent"},
{"offset":0.5313,"color":"#333"},{"offset":0.5369,"color":"transparent"},{"offset":0.5569,"color":"transparent"},
{"offset":0.5625,"color":"#333"},{"offset":0.5681,"color":"transparent"},{"offset":0.5881,"color":"transparent"},
{"offset":0.5938,"color":"#333"},{"offset":0.5994,"color":"transparent"},{"offset":0.6194,"color":"transparent"},
{"offset":0.625,"color":"#333"},{"offset":0.6306,"color":"transparent"},{"offset":0.6506,"color":"transparent"},
{"offset":0.6563,"color":"#333"},{"offset":0.6619,"color":"transparent"},{"offset":0.6819,"color":"transparent"},
{"offset":0.6875,"color":"#333"},{"offset":0.6931,"color":"transparent"},{"offset":0.7131,"color":"transparent"},
{"offset":0.7188,"color":"#333"},{"offset":0.7244,"color":"transparent"},{"offset":0.7444,"color":"transparent"},
{"offset":0.75,"color":"#333"},{"offset":0.7556,"color":"transparent"},{"offset":0.7756,"color":"transparent"},
{"offset":0.7813,"color":"#333"},{"offset":0.7869,"color":"transparent"},{"offset":0.8069,"color":"transparent"},
{"offset":0.8125,"color":"#333"},{"offset":0.8181,"color":"transparent"},{"offset":0.8381,"color":"transparent"},
{"offset":0.8438,"color":"#333"},{"offset":0.8494,"color":"transparent"},{"offset":0.8694,"color":"transparent"},
{"offset":0.875,"color":"#333"},{"offset":0.8806,"color":"transparent"},{"offset":0.9006,"color":"transparent"},
{"offset":0.9063,"color":"#333"},{"offset":0.9119,"color":"transparent"},{"offset":0.9319,"color":"transparent"},
{"offset":0.9375,"color":"#333"},{"offset":0.9431,"color":"transparent"},{"offset":0.9631,"color":"transparent"},
{"offset":0.9688,"color":"#333"},{"offset":0.9744,"color":"transparent"},{"offset":0.9944,"color":"transparent"},
{"offset":1,"color":"#333"}]}}},
   {"mark": {"type": "bar", "fill": "transparent", "stroke": "#222", "strokeWidth": 1}},
   {"mark": {"type": "rule", "color": "#333", "strokeWidth": 1.3}, "encoding": {"y": {"field": "value", "type": "quantitative"}, "y2": {"field": "upper"}}},
   {"mark": {"type": "tick", "color": "#333", "size": 9, "thickness": 1.3}, "encoding": {"y": {"field": "upper", "type": "quantitative"}}},
   {"mark": {"type": "text", "fontSize": 13, "color": "#444", "dy": -6, "baseline": "alphabetic"}, "encoding": {"y": {"field": "upper", "type": "quantitative"}, "text": {"field": "sig"}}}
  ]
 }]}
]
}
